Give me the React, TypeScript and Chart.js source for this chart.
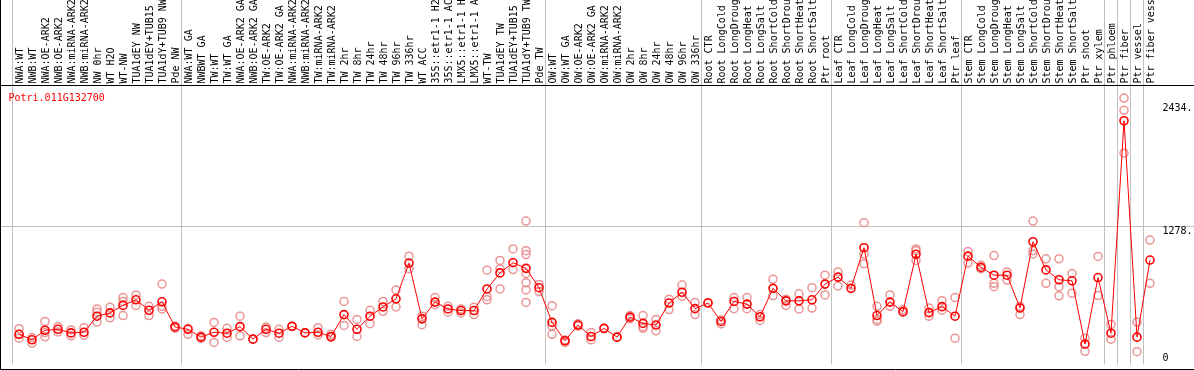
import React, { useEffect, useRef } from 'react';
import { Chart, registerables } from 'chart.js';

Chart.register(...registerables);

const geneName = 'Potri.011G132700';

const categories: string[] = [
  'NWA:WT', 'NWB:WT', 'NWA:OE-ARK2', 'NWB:OE-ARK2', 'NWA:miRNA-ARK2', 'NWB:miRNA-ARK2',
  'NW 0hr', 'WT H2O', 'WT-NW', 'TUA1dEY NW', 'TUA1dEY+TUB15 NW', 'TUA1dY+TUB9 NW', 'Pde NW',
  'NWA:WT GA', 'NWBWT GA', 'TW:WT', 'TW:WT GA', 'NWA:OE-ARK2 GA', 'NWB:OE-ARK2 GA',
  'TW:OE-ARK2', 'TW:OE-ARK2 GA', 'NWA:miRNA-ARK2', 'NWB:miRNA-ARK2', 'TW:miRNA-ARK2',
  'TW:miRNA-ARK2', 'TW 2hr', 'TW 8hr', 'TW 24hr', 'TW 48hr', 'TW 96hr', 'TW 336hr',
  'WT ACC', '35S::etr1-1 H2O', '35S::etr1-1 ACC', 'LMX5::etr1-1 H2O', 'LMX5::etr1-1 ACC',
  'WT-TW', 'TUA1dEY TW', 'TUA1dEY+TUB15 TW', 'TUA1dY+TUB9 TW', 'Pde TW',
  'OW:WT', 'OW:WT GA', 'OW:OE-ARK2', 'OW:OE-ARK2 GA', 'OW:miRNA-ARK2', 'OW:miRNA-ARK2',
  'OW 2hr', 'OW 8hr', 'OW 24hr', 'OW 48hr', 'OW 96hr', 'OW 336hr',
  'Root CTR', 'Root LongCold', 'Root LongDrought', 'Root LongHeat', 'Root LongSalt',
  'Root ShortCold', 'Root ShortDrought', 'Root ShortHeat', 'Root ShortSalt', 'Ptr root',
  'Leaf CTR', 'Leaf LongCold', 'Leaf LongDrought', 'Leaf LongHeat', 'Leaf LongSalt',
  'Leaf ShortCold', 'Leaf ShortDrought', 'Leaf ShortHeat', 'Leaf ShortSalt', 'Ptr leaf',
  'Stem CTR', 'Stem LongCold', 'Stem LongDrought', 'Stem LongHeat', 'Stem LongSalt',
  'Stem ShortCold', 'Stem ShortDrought', 'Stem ShortHeat', 'Stem ShortSalt', 'Ptr shoot',
  'Ptr xylem', 'Ptr phloem', 'Ptr fiber', 'Ptr vessel', 'Ptr fiber vessel',
];

const meanValues: number[] = [
  252, 200, 290, 299, 265, 271, 423, 454, 525, 578, 479, 559, 321,
  299, 225, 271, 262, 324, 206, 299, 262, 327, 265, 271, 231, 438, 299, 423, 510, 587,
  925, 398, 556, 491, 476, 476, 680, 832, 928, 875, 692,
  364, 191, 339, 231, 308, 225, 414, 355, 339, 547, 649, 494,
  547, 373, 562, 537, 417, 686, 568, 568, 578, 726,
  792, 686, 1070, 429, 556, 466, 1008, 457, 513, 423,
  990, 884, 810, 810, 500, 1126, 860, 767, 757, 160, 788,
  262, 2269, 225, 953,
];

const replicateValues: number[][] = [
  [305, 252, 215], [221, 169], [373, 268, 228], [324, 274], [293, 237], [314, 243],
  [491, 460, 367], [507, 407], [599, 562, 429], [624, 525], [516, 429], [726, 516, 491], [330, 308],
  [308, 252], [237, 212], [364, 175], [308, 222], [423, 237], [206], [321, 268], [299, 222],
  [327], [268], [314, 246], [252, 222], [562, 336], [392, 231], [479, 352], [562, 469], [671, 510],
  [990, 872], [423, 342], [599, 531], [516, 460], [491, 454], [507, 438], [857, 609, 578],
  [950, 872, 680], [1058, 863], [1321, 1042, 1005, 826, 739, 671, 553], [723, 655],
  [522, 330, 252], [197, 175], [352, 330], [268, 200], [308], [225], [429, 398],
  [429, 324, 308], [392, 285], [584, 485], [717, 609], [553, 438],
  [553], [386, 349], [599, 494], [599, 494], [438, 383], [773, 618], [584, 525], [634, 491],
  [692, 500], [810, 624],
  [841, 708], [717], [1306, 1011, 919], [516, 392, 376], [624, 516], [485, 460],
  [1058, 1042, 950], [500, 423], [569, 479], [599, 215],
  [1033, 925], [903, 872], [996, 733, 702], [841, 764], [516, 438], [1321, 1042, 1011],
  [965, 733], [965, 702, 615], [826, 640], [215, 91], [987, 618],
  [345, 206], [2483, 2368, 1963], [367, 88], [1142, 733],
];

const yTickValues: number[] = [2434, 1278, 0];
const yTickLabels: string[] = ['2434.', '1278.', '0'];
const gridValue = 1278;
const groupBoundaries: number[] = [0, 13, 41, 53, 63, 73, 84, 85, 86, 87, 88];

const FONT = 'DejaVu Sans Mono';

const overlayPlugin = {
  id: 'overlay',
  beforeDatasetsDraw(chart: any) {
    const ctx = chart.ctx;
    const y = chart.scales.y;
    ctx.save();
    ctx.strokeStyle = '#c0c0c0';
    ctx.lineWidth = 1;
    const gy = Math.round(y.getPixelForValue(gridValue)) + 0.5;
    ctx.beginPath();
    ctx.moveTo(1, gy);
    ctx.lineTo(chart.width, gy);
    ctx.stroke();
    ctx.restore();
  },
  afterDraw(chart: any) {
    const ctx = chart.ctx;
    const area = chart.chartArea;
    const y = chart.scales.y;
    ctx.save();
    ctx.strokeStyle = '#000';
    ctx.lineWidth = 1;
    ctx.beginPath();
    ctx.moveTo(0.5, 0);
    ctx.lineTo(0.5, chart.height);
    ctx.moveTo(0, Math.floor(area.top) + 0.5);
    ctx.lineTo(chart.width, Math.floor(area.top) + 0.5);
    ctx.moveTo(0, chart.height - 0.5);
    ctx.lineTo(chart.width, chart.height - 0.5);
    ctx.stroke();

    ctx.font = `10px "${FONT}"`;
    ctx.textBaseline = 'alphabetic';
    ctx.textAlign = 'left';
    ctx.fillStyle = '#ff0000';
    ctx.fillText(geneName, 8.5, 101);

    ctx.fillStyle = '#000';
    yTickValues.forEach((v, i) => {
      const py = y.getPixelForValue(v);
      const base = Math.min(py + 8, area.bottom - 3);
      ctx.fillText(yTickLabels[i], 1162.5, base);
    });
    ctx.restore();
  },
};

export default function App() {
  const canvasRef = useRef<HTMLCanvasElement | null>(null);

  useEffect(() => {
    if (!canvasRef.current) return;
    const replicatePoints: { x: number; y: number }[] = [];
    replicateValues.forEach((reps, i) => reps.forEach((v) => replicatePoints.push({ x: i, y: v })));

    const chart = new Chart(canvasRef.current, {
      type: 'line',
      data: {
        labels: categories,
        datasets: [
          {
            label: 'mean',
            data: meanValues,
            xAxisID: 'x',
            yAxisID: 'y',
            borderColor: '#ff0000',
            borderWidth: 1,
            pointRadius: 4,
            pointBorderWidth: 1.6,
            pointBorderColor: '#ff0000',
            pointBackgroundColor: 'rgba(0,0,0,0)',
            tension: 0,
            order: 0,
          },
          {
            label: 'replicates',
            data: replicatePoints as any,
            xAxisID: 'xr',
            yAxisID: 'y',
            showLine: false,
            pointRadius: 4,
            pointBorderWidth: 1.5,
            pointBorderColor: 'rgba(232,130,130,0.85)',
            pointBackgroundColor: 'rgba(0,0,0,0)',
            order: 1,
          },
        ],
      },
      options: {
        responsive: false,
        animation: false,
        devicePixelRatio: 1,
        layout: { padding: { left: 12.5, right: 0, top: 0, bottom: 1 } },
        plugins: {
          legend: { display: false },
          tooltip: { enabled: false },
          title: { display: false },
        },
        scales: {
          x: {
            type: 'category',
            position: 'top',
            offset: true,
            border: { display: false },
            grid: {
              offset: true,
              drawTicks: true,
              tickLength: 86,
              lineWidth: 1,
              color: (ctx: any) => (groupBoundaries.includes(ctx.index) ? '#c0c0c0' : 'rgba(0,0,0,0)'),
            },
            ticks: {
              autoSkip: false,
              minRotation: 90,
              maxRotation: 90,
              padding: -84,
              labelOffset: 13,
              color: '#000',
              font: { family: FONT, size: 10 },
            },
            afterFit: (s: any) => {
              s.height = 85.5;
            },
          },
          xr: {
            type: 'linear',
            display: false,
            min: -0.5,
            max: categories.length - 0.5,
          },
          y: {
            type: 'linear',
            position: 'right',
            min: -32.5,
            max: 2602,
            grid: { display: false },
            border: { display: false },
            ticks: { display: false },
            afterFit: (s: any) => {
              s.width = 37.5;
            },
          },
        },
      },
      plugins: [overlayPlugin],
    });
    return () => chart.destroy();
  }, []);

  return (
    <div style={{ position: 'absolute', left: 0, top: 0, width: 1194, height: 370, background: '#fff' }}>
      <canvas ref={canvasRef} width={1194} height={370} />
    </div>
  );
}
